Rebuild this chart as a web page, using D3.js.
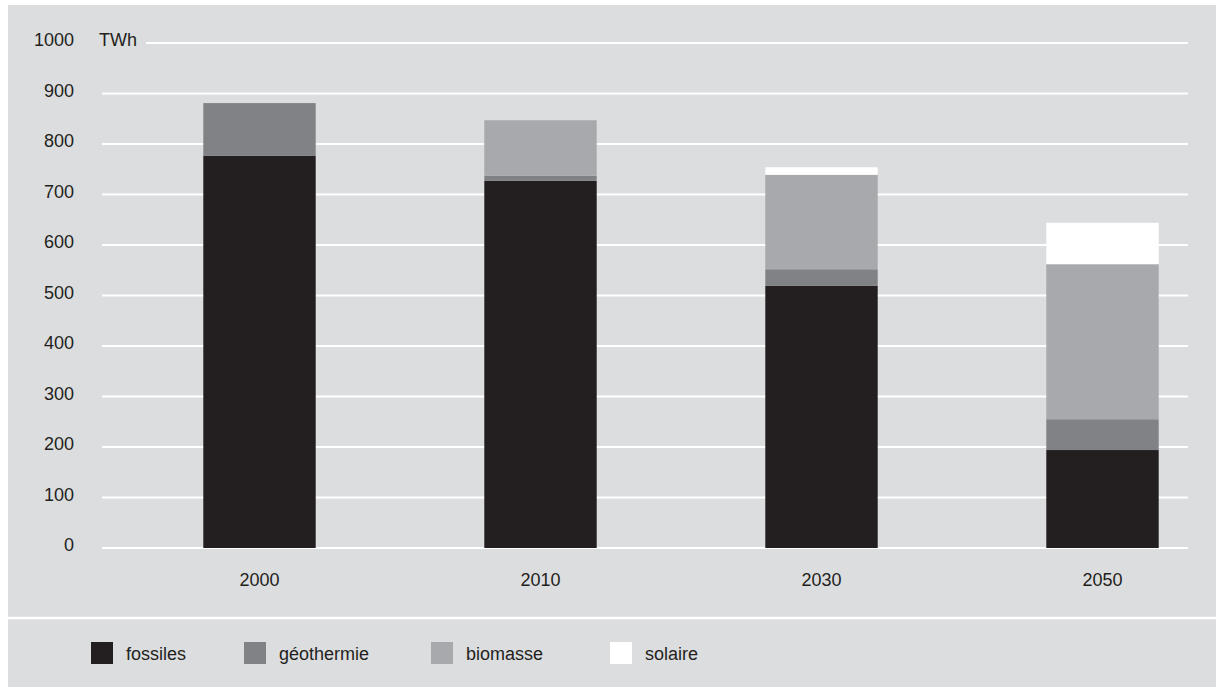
<!DOCTYPE html>
<html>
<head>
<meta charset="utf-8">
<script src="https://cdn.jsdelivr.net/npm/d3@7"></script>
<style>
  html, body { margin: 0; padding: 0; background: #ffffff; }
  svg { display: block; }
  text { font-family: "Liberation Sans", Arial, sans-serif; fill: #231f20; }
</style>
</head>
<body>
<script>
const categories = ["2000", "2010", "2030", "2050"];
const seriesNames = ["fossiles", "géothermie", "biomasse", "solaire"];
const fossiles   = [777, 727, 519, 194];
const geothermie = [104, 10, 33, 61];
const biomasse   = [0, 110, 187, 307];
const solaire    = [0, 0, 15, 82];
const yTicks = [0, 100, 200, 300, 400, 500, 600, 700, 800, 900, 1000];
const unitLabel = "TWh";
const colors = ["#231f20", "#808285", "#a7a9ac", "#ffffff"];

const W = 1216, H = 687;
const FS = 18;
const svg = d3.select("body").append("svg").attr("width", W).attr("height", H);

// panel background
svg.append("rect").attr("x", 8).attr("y", 5).attr("width", W - 8).attr("height", H - 5).attr("fill", "#dcdddf");

const y = d3.scaleLinear().domain([0, 1000]).range([548, 43]);
const x = d3.scaleBand().domain(categories).range([119, 1243]).paddingInner(0.6).paddingOuter(0.3);

// gridlines
const grid = svg.append("g");
grid.selectAll("line").data(yTicks).join("line")
  .attr("x1", d => d === 1000 ? 146 : 102)
  .attr("x2", 1188)
  .attr("y1", d => y(d)).attr("y2", d => y(d))
  .attr("stroke", "#ffffff").attr("stroke-width", 2);

// y labels
svg.append("g").selectAll("text").data(yTicks).join("text")
  .attr("x", 74).attr("y", d => y(d) + 3)
  .attr("text-anchor", "end").attr("font-size", FS)
  .text(d => d);
svg.append("text").attr("x", 99).attr("y", y(1000) + 3).attr("font-size", FS).text(unitLabel);

// stacked data
const rows = categories.map((c, i) => ({
  cat: c,
  "fossiles": fossiles[i], "géothermie": geothermie[i], "biomasse": biomasse[i], "solaire": solaire[i]
}));
const stack = d3.stack().keys(seriesNames)(rows);

svg.append("g").selectAll("g").data(stack).join("g")
  .attr("fill", (d, i) => colors[i])
  .selectAll("rect").data(d => d).join("rect")
  .attr("x", d => x(d.data.cat))
  .attr("width", x.bandwidth())
  .attr("y", d => y(d[1]))
  .attr("height", d => y(d[0]) - y(d[1]));

// x labels
svg.append("g").selectAll("text").data(categories).join("text")
  .attr("x", d => x(d) + x.bandwidth() / 2)
  .attr("y", 586)
  .attr("text-anchor", "middle").attr("font-size", FS)
  .text(d => d);

// separator
svg.append("line").attr("x1", 8).attr("x2", W).attr("y1", 618).attr("y2", 618)
  .attr("stroke", "#ffffff").attr("stroke-width", 2.5);

// legend
const legendX = [91, 244, 431, 610];
const lg = svg.append("g").selectAll("g").data(seriesNames).join("g")
  .attr("transform", (d, i) => `translate(${legendX[i]},642)`);
lg.append("rect").attr("width", 22).attr("height", 22).attr("fill", (d, i) => colors[i]);
lg.append("text").attr("x", 35).attr("y", 18).attr("font-size", FS).text(d => d);
</script>
</body>
</html>
